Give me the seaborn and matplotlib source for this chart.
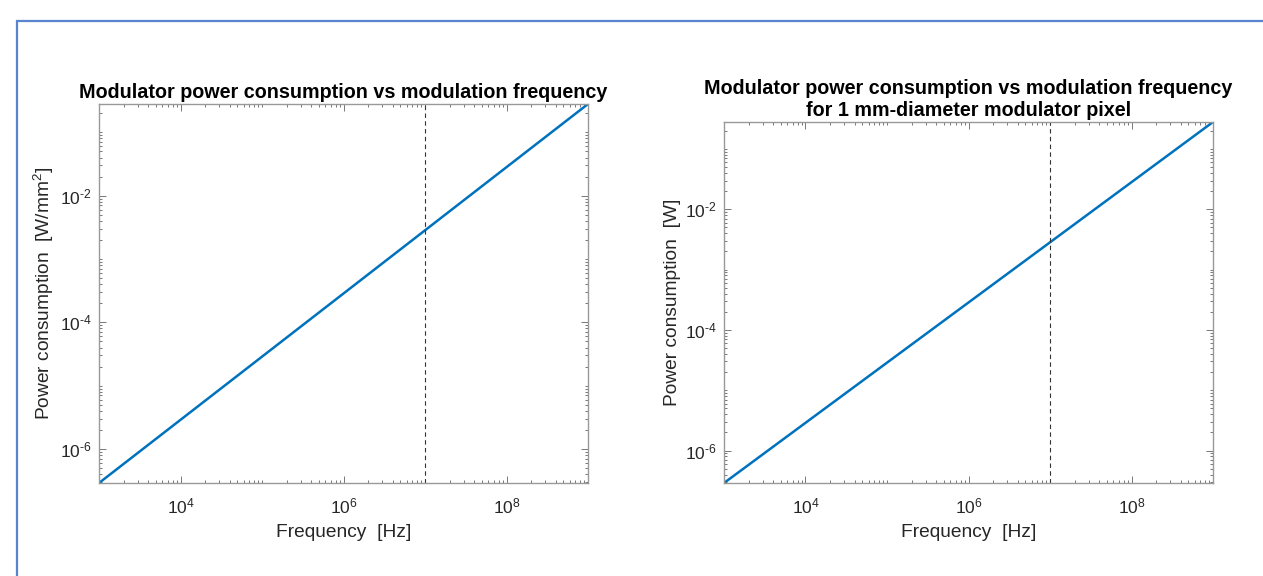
import numpy as np
import pandas as pd
import seaborn as sns
import matplotlib
matplotlib.use("Agg")
import matplotlib.pyplot as plt
from matplotlib.ticker import FixedLocator, LogLocator, FuncFormatter, NullFormatter
from matplotlib.patches import Rectangle

# ---- data ----
freq_hz = [1e3, 1e9]
power_density_w_mm2 = [2.9e-7, 0.28]
power_pixel_w = [2.9e-7, 0.28]
marker_freq_hz = 1e7
x_major_ticks = [1e4, 1e6, 1e8]
y_major_ticks = [1e-6, 1e-4, 1e-2]

title_left = "Modulator power consumption vs modulation frequency"
title_right = "Modulator power consumption vs modulation frequency\nfor 1 mm-diameter modulator pixel"
xlabel = "Frequency  [Hz]"
ylabel_left = "Power consumption  [W/mm$^2$]"
ylabel_right = "Power consumption  [W]"

sns.set_theme(style="white")
plt.rcParams['font.family'] = ['Liberation Sans', 'DejaVu Sans']
plt.rcParams['mathtext.fontset'] = 'custom'
plt.rcParams['mathtext.rm'] = 'Liberation Sans'
plt.rcParams['mathtext.it'] = 'Liberation Sans'


def pow_fmt(v, pos):
    e = int(round(np.log10(v)))
    if e < 0:
        return r"10$^{\text{-}%d}$" % (-e)
    return r"10$^{%d}$" % e


W, H = 1263, 576
fig = plt.figure(figsize=(W / 100, H / 100), dpi=100)
fig.patch.set_facecolor("white")

# slide frame
fig.add_artist(Rectangle((17 / W, -0.05), 1.2, 1 - 21 / H + 0.05, transform=fig.transFigure,
                         fill=False, edgecolor="#5b84d0", linewidth=1.6))

axL = fig.add_axes([99 / W, 1 - 483 / H, 489 / W, 379 / H])
axR = fig.add_axes([724 / W, 1 - 483 / H, 489 / W, 361 / H])

line_color = "#0072BD"
txt = "#262626"

for ax, yvals, title, ylab in [(axL, power_density_w_mm2, title_left, ylabel_left),
                                (axR, power_pixel_w, title_right, ylabel_right)]:
    df = pd.DataFrame({"f": freq_hz, "p": yvals})
    sns.lineplot(data=df, x="f", y="p", ax=ax, color=line_color, linewidth=1.8)
    ax.set_xscale("log")
    ax.set_yscale("log")
    ax.set_xlim(min(freq_hz), max(freq_hz))
    ax.set_ylim(min(yvals), max(yvals))
    ax.axvline(marker_freq_hz, color="#333333", linestyle=(0, (4, 3)), linewidth=0.8)
    ax.xaxis.set_major_locator(FixedLocator(x_major_ticks))
    ax.yaxis.set_major_locator(FixedLocator(y_major_ticks))
    ax.xaxis.set_major_formatter(FuncFormatter(pow_fmt))
    ax.yaxis.set_major_formatter(FuncFormatter(pow_fmt))
    ax.xaxis.set_minor_locator(LogLocator(base=10, subs=np.arange(1, 10), numticks=50))
    ax.yaxis.set_minor_locator(LogLocator(base=10, subs=np.arange(1, 10), numticks=50))
    ax.xaxis.set_minor_formatter(NullFormatter())
    ax.yaxis.set_minor_formatter(NullFormatter())
    ax.tick_params(which="both", direction="in", top=True, right=True, bottom=True, left=True,
                   color="#777777", width=0.7, labelsize=12.5, labelcolor=txt)
    ax.tick_params(which="major", length=5)
    ax.tick_params(which="minor", length=2.5)
    ax.tick_params(axis="x", which="major", pad=10)
    ax.tick_params(axis="y", which="major", pad=5)
    for s in ax.spines.values():
        s.set_color("#999999")
        s.set_linewidth(1.0)
    ax.set_xlabel(xlabel, fontsize=13.8, color=txt, labelpad=5)
    ax.set_ylabel(ylab, fontsize=13.8, color=txt, labelpad=3)
    ax.set_title(title, fontsize=14.2, fontweight="bold", color="black", pad=4, linespacing=1.25)

fig.savefig("out.png", dpi=100, facecolor="white")
